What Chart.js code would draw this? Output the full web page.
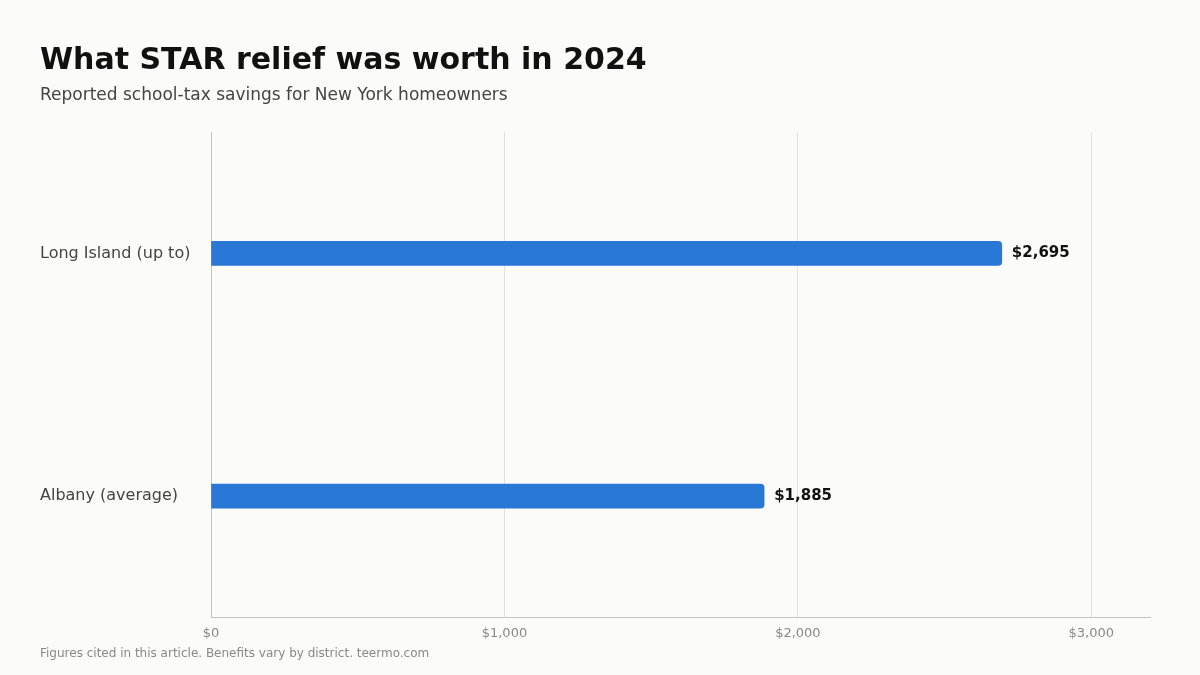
<!DOCTYPE html>
<html>
<head>
<meta charset="utf-8">
<script src="https://cdn.jsdelivr.net/npm/chart.js@4/dist/chart.umd.min.js"></script>
<style>
  html, body { margin: 0; padding: 0; background: #fbfbf9; }
  #wrap { position: relative; width: 1200px; height: 675px; }
  canvas { position: absolute; left: 0; top: 0; }
</style>
</head>
<body>
<div id="wrap"><canvas id="c" width="1200" height="675"></canvas></div>
<script>
const titleText = "What STAR relief was worth in 2024";
const subtitleText = "Reported school-tax savings for New York homeowners";
const footerText = "Figures cited in this article. Benefits vary by district. teermo.com";
const categories = ["Long Island (up to)", "Albany (average)"];
const savings = [2695, 1885];
const xTickValues = [0, 1000, 2000, 3000];
const xMax = 3200;

const FONT = "'DejaVu Sans', 'Liberation Sans', sans-serif";
const fmt = v => "$" + v.toLocaleString("en-US");

const textPlugin = {
  id: "textPlugin",
  afterDraw(chart) {
    const ctx = chart.ctx;
    ctx.save();
    ctx.textAlign = "left";
    ctx.textBaseline = "alphabetic";
    ctx.fillStyle = "#111111";
    ctx.font = "bold 30px " + FONT;
    ctx.fillText(titleText, 40, 69);
    ctx.fillStyle = "#444444";
    ctx.font = "17px " + FONT;
    ctx.fillText(subtitleText, 40, 100);
    ctx.fillStyle = "#888888";
    ctx.font = "12px " + FONT;
    ctx.fillText(footerText, 40, 657);
    // value labels
    const meta = chart.getDatasetMeta(0);
    ctx.fillStyle = "#111111";
    ctx.font = "bold 15px " + FONT;
    ctx.textBaseline = "middle";
    meta.data.forEach((bar, i) => {
      ctx.fillText(fmt(savings[i]), bar.x + 10, bar.y);
    });
    ctx.restore();
  }
};

new Chart(document.getElementById("c"), {
  type: "bar",
  data: {
    labels: categories,
    datasets: [{
      data: savings,
      backgroundColor: "#2a78d6",
      borderRadius: 4,
      borderSkipped: "start",
      barThickness: 24
    }]
  },
  options: {
    indexAxis: "y",
    responsive: false,
    animation: false,
    devicePixelRatio: 1,
    layout: { padding: { left: 40, right: 50, top: 132, bottom: 26 } },
    plugins: { legend: { display: false }, tooltip: { enabled: false }, title: { display: false } },
    scales: {
      x: {
        min: 0, max: xMax,
        afterBuildTicks(scale) { scale.ticks = xTickValues.map(v => ({ value: v })); },
        ticks: {
          color: "#888888",
          font: { family: FONT, size: 13 },
          padding: 8,
          callback: v => fmt(v)
        },
        grid: { color: "#e2e2e0", drawTicks: false },
        border: { display: true, color: "#c4c4c2" }
      },
      y: {
        afterFit(scale) { scale.width = 171; },
        ticks: {
          color: "#444444",
          font: { family: FONT, size: 16 },
          crossAlign: "far",
          padding: 0
        },
        grid: { display: false, drawTicks: false },
        border: { display: true, color: "#c4c4c2" }
      }
    }
  },
  plugins: [textPlugin]
});
</script>
</body>
</html>
